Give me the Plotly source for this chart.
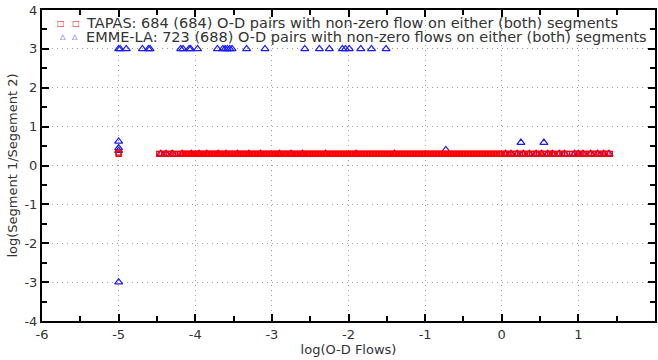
import plotly.graph_objects as go

# ---------------- data ----------------
# TAPAS: log(O-D flow) values; ratio log(seg1/seg2) ~ log10(2)
tapas_x = [
    -5.00, -5.00,
    -4.47, -4.44, -4.41, -4.38, -4.35, -4.32, -4.29, -4.27,
    -4.20, -4.18, -4.16, -4.14, -4.12, -4.10, -4.08, -4.06, -4.04, -4.02,
    -4.00, -3.98, -3.96, -3.94, -3.92, -3.90, -3.88, -3.86, -3.84, -3.82,
    -3.80, -3.78, -3.76, -3.74, -3.72, -3.70, -3.68, -3.66, -3.64, -3.62,
    -3.60, -3.58, -3.56, -3.54, -3.52, -3.50, -3.48, -3.46, -3.44, -3.42,
    -3.40, -3.38, -3.36, -3.34, -3.32, -3.30, -3.28, -3.26, -3.24, -3.22,
    -3.20, -3.18, -3.16, -3.14, -3.12, -3.10, -3.08, -3.06, -3.04, -3.02,
    -3.00, -2.98, -2.96, -2.94, -2.92, -2.90, -2.88, -2.86, -2.84, -2.82,
    -2.80, -2.78, -2.76, -2.74, -2.72, -2.70, -2.68, -2.66, -2.64, -2.62,
    -2.60, -2.58, -2.56, -2.54, -2.52, -2.50, -2.48, -2.46, -2.44, -2.42,
    -2.40, -2.38, -2.36, -2.34, -2.32, -2.30, -2.28, -2.26, -2.24, -2.22,
    -2.20, -2.18, -2.16, -2.14, -2.12, -2.10, -2.08, -2.06, -2.04, -2.02,
    -2.00, -1.98, -1.96, -1.94, -1.92, -1.90, -1.88, -1.86, -1.84, -1.82,
    -1.80, -1.78, -1.76, -1.74, -1.72, -1.70, -1.68, -1.66, -1.64, -1.62,
    -1.60, -1.58, -1.56, -1.54, -1.52, -1.50, -1.48, -1.46, -1.44, -1.42,
    -1.40, -1.38, -1.36, -1.34, -1.32, -1.30, -1.28, -1.26, -1.24, -1.22,
    -1.20, -1.18, -1.16, -1.14, -1.12, -1.10, -1.08, -1.06, -1.04, -1.02,
    -1.00, -0.98, -0.96, -0.94, -0.92, -0.90, -0.88, -0.86, -0.84, -0.82,
    -0.80, -0.78, -0.76, -0.74, -0.72, -0.70, -0.68, -0.66, -0.64, -0.62,
    -0.60, -0.58, -0.56, -0.54, -0.52, -0.50, -0.48, -0.46, -0.44, -0.42,
    -0.40, -0.38, -0.36, -0.34, -0.32, -0.30, -0.28, -0.26, -0.24, -0.22,
    -0.20, -0.18, -0.16, -0.14, -0.12, -0.10, -0.08, -0.06, -0.04, -0.02,
    0.00, 0.03, 0.06, 0.09, 0.12, 0.15, 0.18, 0.21, 0.24, 0.27,
    0.30, 0.33, 0.36, 0.39, 0.42, 0.45, 0.48, 0.51, 0.54, 0.57,
    0.60, 0.63, 0.66, 0.68,
    0.73, 0.76, 0.79, 0.82, 0.85,
    0.92, 0.95, 0.98, 1.01, 1.04, 1.07, 1.09,
    1.14, 1.17, 1.20, 1.23, 1.26, 1.29, 1.32, 1.35, 1.38, 1.41,
]
tapas_y = [0.301] * len(tapas_x)
tapas_y[1] = 0.33

# EMME-LA: O-D pairs
emme_x = [
    # ratio capped at 3
    -5.00, -4.98, -4.90, -4.69, -4.61, -4.59, -4.19, -4.16, -4.08, -4.06, -3.97,
    -3.71, -3.64, -3.61, -3.58, -3.55, -3.52, -3.33, -3.09, -2.57, -2.38, -2.25,
    -2.08, -2.04, -1.99, -1.84, -1.70, -1.51,
    # other values
    -5.00, -5.00, -5.00, -5.00, -0.73, 0.25, 0.55,
    # along log10(2)
    -4.45, -4.38, -4.30, -4.17, -4.05, -3.95, -3.85, -3.70, -3.60, -3.45, -3.30,
    -3.15, -2.90, -2.75, -2.60, -2.30, -1.90, -1.40, 0.05, 0.12, 0.20, 0.28, 0.36,
    0.45, 0.52, 0.60, 0.66, 0.75, 0.82, 0.95, 1.00, 1.06, 1.16, 1.25, 1.33, 1.40,
]
emme_y = (
    [3.0] * 28
    + [0.62, 0.45, 0.38, -3.0, 0.40, 0.59, 0.59]
    + [0.301] * 36
)

x_ticks = [-6, -5, -4, -3, -2, -1, 0, 1, 2]
y_ticks = [-4, -3, -2, -1, 0, 1, 2, 3, 4]

legend_tapas = "TAPAS: 684 (684) O-D pairs with non-zero flow on either (both) segments"
legend_emme = "EMME-LA: 723 (688) O-D pairs with non-zero flows on either (both) segments"

# ---------------- figure ----------------
FONT = "DejaVu Sans"
TXT = "#333333"
fig = go.Figure()
fig.add_trace(go.Scatter(
    x=emme_x, y=emme_y, mode="markers", name=legend_emme, showlegend=False,
    marker=dict(symbol="triangle-up-open", size=7, color="#1a1aff",
                line=dict(width=1.2, color="#1a1aff")),
))
fig.add_trace(go.Scatter(
    x=tapas_x, y=tapas_y, mode="markers", name=legend_tapas, showlegend=False,
    marker=dict(symbol="square-open", size=5, color="#ff0000",
                line=dict(width=1.3, color="#ff0000")),
))

axis_common = dict(
    automargin=False,
    showline=True, linecolor="black", linewidth=2, mirror="allticks",
    ticks="inside", ticklen=7, tickwidth=2, tickcolor="black",
    showgrid=True, gridcolor="#a0a0a0", gridwidth=1, griddash="1px,4px",
    zeroline=False,
    tickfont=dict(family=FONT, size=13, color=TXT),
    minor=dict(ticks="inside", ticklen=5, tickwidth=2, tickcolor="black",
               dtick=0.5, showgrid=False),
)
fig.update_xaxes(
    range=[-6, 2], tickvals=x_ticks, ticktext=[str(v) for v in x_ticks],
    title=dict(text="log(O-D Flows)", font=dict(family=FONT, size=13, color=TXT),
               standoff=2),
    **axis_common,
)
fig.update_yaxes(
    range=[-4, 4], tickvals=y_ticks, ticktext=[str(v) for v in y_ticks],
    title=dict(text="log(Segment 1/Segement 2)", font=dict(family=FONT, size=13, color=TXT),
               standoff=4),
    **axis_common,
)

# legend built from text
sym_x = 0.044
txt_x = 0.069
row1, row2 = 0.957, 0.912
fig.add_annotation(xref="paper", yref="paper", x=sym_x, y=row1, xanchor="center", yanchor="middle",
                   text="□\u00a0\u00a0\u00a0□", showarrow=False,
                   font=dict(family=FONT, size=8, color="#ff0000"))
fig.add_annotation(xref="paper", yref="paper", x=sym_x, y=row2, xanchor="center", yanchor="middle",
                   text="△\u00a0\u00a0\u00a0△", showarrow=False,
                   font=dict(family=FONT, size=7, color="#1a1aff"))
fig.add_annotation(xref="paper", yref="paper", x=txt_x, y=row1, xanchor="left", yanchor="middle",
                   text=legend_tapas, showarrow=False, font=dict(family=FONT, size=14.5, color=TXT))
fig.add_annotation(xref="paper", yref="paper", x=txt_x, y=row2, xanchor="left", yanchor="middle",
                   text=legend_emme, showarrow=False, font=dict(family=FONT, size=14.5, color=TXT))

fig.update_layout(
    width=658, height=360,
    margin=dict(l=42, r=3, t=10, b=39, autoexpand=False),
    paper_bgcolor="white", plot_bgcolor="white",
    showlegend=False,
)
fig.write_html(
    "out.html",
    config={"displayModeBar": False},
    post_script="document.body.style.margin='0px';document.body.style.overflow='hidden';",
)
